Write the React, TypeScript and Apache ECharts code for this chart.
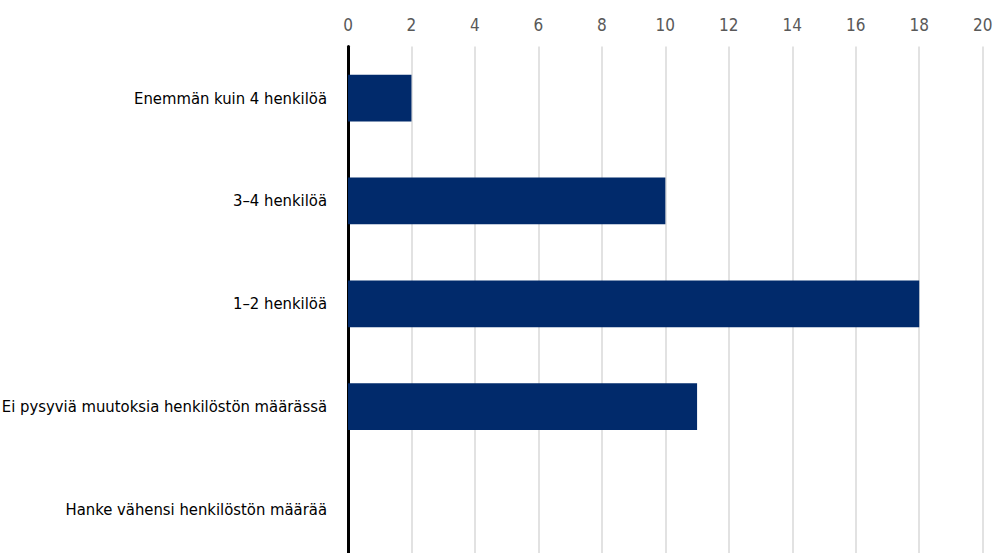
import React, { useEffect, useRef } from "react";
import * as echarts from "echarts";

const categories = [
  "Enemmän kuin 4 henkilöä",
  "3–4 henkilöä",
  "1–2 henkilöä",
  "Ei pysyviä muutoksia henkilöstön määrässä",
  "Hanke vähensi henkilöstön määrää",
];
const values = [2, 10, 18, 11, 0];

const FONT = "'DejaVu Sans Condensed', 'Liberation Sans Narrow', sans-serif";

export default function App() {
  const ref = useRef<HTMLDivElement>(null);
  useEffect(() => {
    document.body.style.margin = "0";
    const chart = echarts.init(ref.current!, undefined, { renderer: "svg" });
    chart.setOption({
      animation: false,
      grid: {
        left: 348,
        right: 10.3,
        top: 46.6,
        bottom: -8,
        containLabel: false,
        outerBoundsMode: "none",
      },
      xAxis: {
        type: "value",
        position: "top",
        min: 0,
        max: 20,
        interval: 2,
        axisLine: { show: false },
        axisTick: { show: false },
        axisLabel: { color: "#595959", fontSize: 17, fontFamily: FONT, margin: 13 },
        splitLine: { show: true, lineStyle: { color: "#d9d9d9", width: 1.5 } },
      },
      yAxis: {
        type: "category",
        inverse: true,
        data: categories,
        axisLine: { show: true, onZero: false, lineStyle: { color: "#000", width: 3 } },
        axisTick: { show: false },
        axisLabel: { color: "#000", fontSize: 16.5, fontFamily: FONT, margin: 21 },
      },
      series: [
        {
          type: "bar",
          data: values,
          barWidth: "45.4%",
          itemStyle: { color: "#012a6b" },
        },
      ],
    });
    return () => chart.dispose();
  }, []);
  return <div ref={ref} style={{ width: 993, height: 553, overflow: "hidden" }} />;
}
